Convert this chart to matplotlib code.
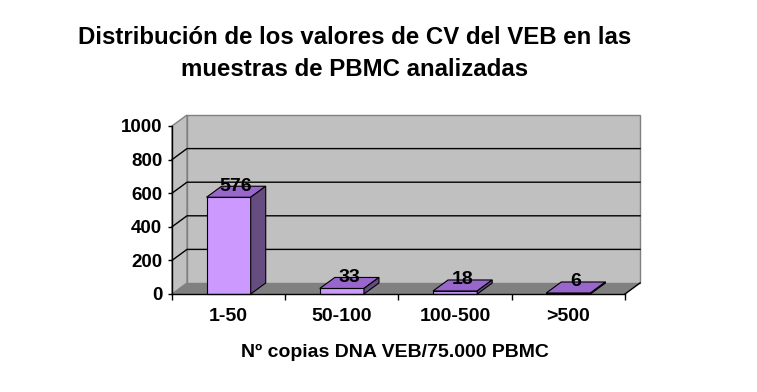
import matplotlib
matplotlib.use("Agg")
import matplotlib.pyplot as plt
from matplotlib.patches import Polygon

# data
categories = ["1-50", "50-100", "100-500", ">500"]
values = [576, 33, 18, 6]
y_ticks = [0, 200, 400, 600, 800, 1000]

plt.rcParams['font.family'] = ['Liberation Sans', 'DejaVu Sans']
plt.rcParams['font.weight'] = 'bold'

W, H = 757, 392
fig = plt.figure(figsize=(W / 100, H / 100), dpi=100)
fig.patch.set_facecolor('white')

# front plane of the 3d box, in pixels
x0, x1, yb, yt = 172, 625, 294, 126
ax = fig.add_axes([x0 / W, 1 - yb / H, (x1 - x0) / W, (yb - yt) / H])
ax.set_xlim(-0.5, len(categories) - 0.5)
ax.set_ylim(0, 1000)
ax.patch.set_visible(False)

# depth offsets (data units)
px_per_cat = (x1 - x0) / len(categories)
px_per_val = (yb - yt) / 1000
dx = 15 / px_per_cat
dy = 11 / px_per_val

xl, xr = -0.5, len(categories) - 0.5
wall = '#C0C0C0'
floor = '#808080'
edge = '#808080'

def poly(pts, fc, ec, z, lw=1.0):
    p = Polygon(pts, closed=True, facecolor=fc, edgecolor=ec, lw=lw,
                zorder=z, clip_on=False, joinstyle='miter')
    ax.add_patch(p)

# back wall
poly([(xl + dx, dy), (xr + dx, dy), (xr + dx, 1000 + dy), (xl + dx, 1000 + dy)],
     wall, edge, 0.5)
# left wall
poly([(xl, 0), (xl + dx, dy), (xl + dx, 1000 + dy), (xl, 1000)], wall, edge, 0.6)
# floor
poly([(xl, 0), (xr, 0), (xr + dx, dy), (xl + dx, dy)], floor, 'none', 0.7)
ax.plot([xr, xr + dx], [0, dy], color='black', lw=1, zorder=0.8, clip_on=False)

# gridlines
for v in y_ticks[1:-1]:
    ax.plot([xl, xl + dx, xr + dx], [v, v + dy, v + dy], color='black', lw=1,
            zorder=0.9, clip_on=False)

# bars
bw = 0.39
front_c = '#CC99FF'
top_c = '#9966CC'
side_c = '#664D80'
for i, v in enumerate(values):
    l, r = i - bw / 2, i + bw / 2
    poly([(l, 0), (r, 0), (r, v), (l, v)], front_c, 'black', 3, lw=0.8)
    poly([(l, v), (r, v), (r + dx, v + dy), (l + dx, v + dy)], top_c, 'black', 3, lw=0.8)
    poly([(r, 0), (r + dx, dy), (r + dx, v + dy), (r, v)], side_c, 'black', 3, lw=0.8)
    ax.text(i + dx / 2, v + dy, str(v), ha='center', va='center', fontsize=14,
            fontweight='bold', zorder=5)

# axes
for s in ['top', 'right']:
    ax.spines[s].set_visible(False)
ax.spines['left'].set_linewidth(1)
ax.spines['bottom'].set_linewidth(1)
ax.spines['left'].set_zorder(4)
ax.spines['bottom'].set_zorder(4)
ax.set_yticks(y_ticks)
ax.set_yticklabels([str(t) for t in y_ticks], fontsize=13.5, fontweight='bold')
ax.tick_params(axis='y', length=3, width=1, pad=4)
ax.set_xticks(range(len(categories)))
ax.set_xticklabels(categories, fontsize=14, fontweight='bold')
ax.set_xticks([k - 0.5 for k in range(len(categories) + 1)], minor=True)
ax.tick_params(axis='x', which='major', length=0, pad=10)
ax.tick_params(axis='x', which='minor', length=4, width=1)

fig.text(395 / W, 1 - 352 / H, "Nº copias DNA VEB/75.000 PBMC", ha='center',
         va='center', fontsize=14, fontweight='bold')
fig.text(355 / W, 1 - 37 / H, "Distribución de los valores de CV del VEB en las",
         ha='center', va='center', fontsize=17.3, fontweight='bold')
fig.text(355 / W, 1 - 69 / H, "muestras de PBMC analizadas",
         ha='center', va='center', fontsize=17.3, fontweight='bold')

fig.savefig('out.png', dpi=100)
